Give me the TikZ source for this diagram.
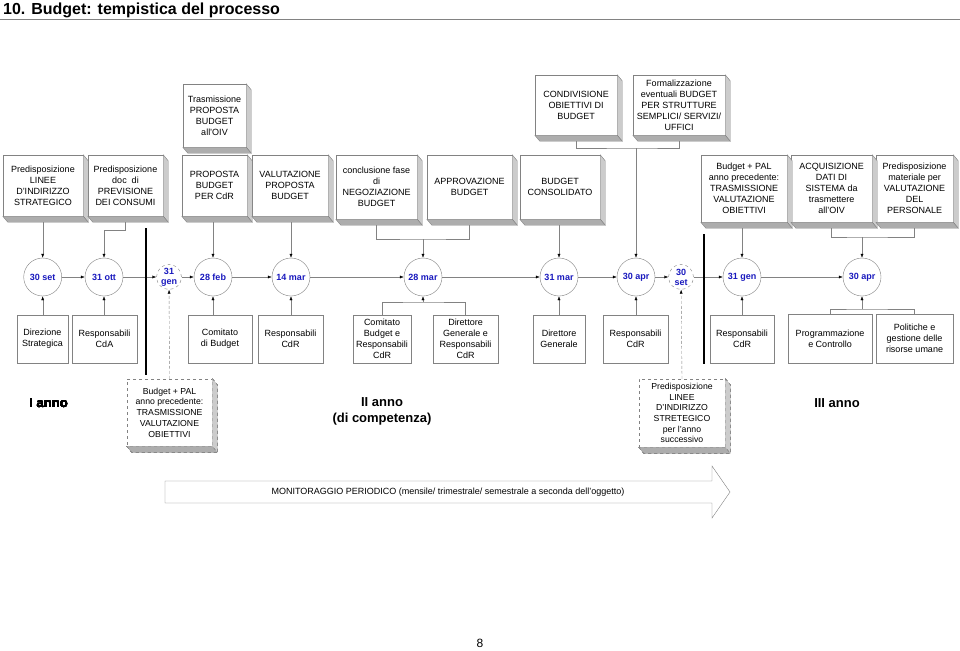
\documentclass[tikz,border=0pt]{standalone}
\usepackage{fontspec}
\setmainfont{Liberation Sans}
\usepackage{tikz}
\usetikzlibrary{calc,arrows.meta}
\tikzstyle{timeline} = [x = 1pt, y = -1pt]
\definecolor{lineGray}{RGB}{130,130,130}
\definecolor{dateBlue}{RGB}{25,25,190}
\tikzstyle{phaseStyle} = [draw=lineGray, fill=white, align=center, inner sep=1pt, font=\fontsize{9}{11}\selectfont]
\tikzstyle{actorStyle} = [phaseStyle]
\tikzstyle{planStyle} = [phaseStyle, dashed, font=\fontsize{8.7}{10.7}\selectfont]
\tikzstyle{sideFace} = [draw=lineGray, fill=black!20]
\tikzstyle{bottomFace} = [draw=lineGray, fill=black!32]
\tikzstyle{dateStyle} = [circle, draw=lineGray, fill=white, minimum size=38pt, inner sep=0pt, text=dateBlue, font=\fontsize{9}{10}\selectfont\bfseries]
\tikzstyle{extraDate} = [dateStyle, dashed, minimum size=25pt, align=center]
\tikzstyle{flowLine} = [draw=lineGray, -{Latex[length=4pt, width=3pt, color=black]}]
\tikzstyle{joinLine} = [draw=lineGray]
\tikzstyle{planLine} = [flowLine, densely dashed]
\tikzstyle{yearBar} = [line width=2.6pt, black]
\tikzstyle{yearLabel} = [align=center, font=\fontsize{13}{16}\selectfont\bfseries]
\newcommand{\dx}{5}
\newcommand{\dy}{6}
\newcommand{\placeBox}[7]{\node [#1, minimum width={(#5 - #3)*1pt}, minimum height={(#6 - #4)*1pt}] (#2) at ({(#3 + #5)/2}, {(#4 + #6)/2}) {#7};}
\newcommand{\boxDepth}[2][]{
  \filldraw [sideFace, #1] (#2.north east) -- ++(\dx,\dy) -- ($(#2.south east) + (\dx,\dy)$) -- (#2.south east) -- cycle;
  \filldraw [bottomFace, #1] (#2.south west) -- ++(\dx,\dy) -- ($(#2.south east) + (\dx,\dy)$) -- (#2.south east) -- cycle;
}
\begin{document}
\begin{tikzpicture}[timeline]
\useasboundingbox (0,0) rectangle (960,650);
% title
\node [anchor=base west, inner sep=0pt, font=\fontsize{16}{18}\selectfont\bfseries] (title) at (3,15) {10. Budget: tempistica del processo};
\draw [lineGray, line width=1.2pt] (0,19.5) -- (960,19.5);
% phases
\placeBox{phaseStyle}{trasmOiv}{183}{84}{246}{147}{Trasmissione\\PROPOSTA\\BUDGET\\all'OIV}
\placeBox{phaseStyle}{condivisione}{535}{75}{617}{135}{CONDIVISIONE\\OBIETTIVI DI\\BUDGET}
\placeBox{phaseStyle}{formalizzazione}{633}{75}{725}{135}{Formalizzazione\\eventuali BUDGET\\PER STRUTTURE\\SEMPLICI/ SERVIZI/\\UFFICI}
\placeBox{phaseStyle}{lineeStrat}{3}{155}{83}{216}{Predisposizione\\LINEE\\D'INDIRIZZO\\STRATEGICO}
\placeBox{phaseStyle}{prevConsumi}{88}{155}{163}{216}{Predisposizione\\doc\ \ di\\PREVISIONE\\DEI CONSUMI}
\placeBox{phaseStyle}{propostaCdr}{182}{155}{247}{216}{PROPOSTA\\BUDGET\\PER CdR}
\placeBox{phaseStyle}{valutProposta}{252}{155}{328}{216}{VALUTAZIONE\\PROPOSTA\\BUDGET}
\placeBox{phaseStyle}{negoziazione}{336}{155}{417}{219}{conclusione fase\\di\\NEGOZIAZIONE\\BUDGET}
\placeBox{phaseStyle}{approvazione}{427}{155}{512}{219}{APPROVAZIONE\\BUDGET}
\placeBox{phaseStyle}{consolidato}{520}{155}{600}{219}{BUDGET\\CONSOLIDATO}
\placeBox{phaseStyle}{valutObiettivi}{701}{155}{787}{222}{Budget + PAL\\anno precedente:\\TRASMISSIONE\\VALUTAZIONE\\OBIETTIVI}
\placeBox{phaseStyle}{datiSistema}{791}{155}{872}{222}{ACQUISIZIONE\\DATI DI\\SISTEMA da\\trasmettere\\all'OIV}
\placeBox{phaseStyle}{valutPersonale}{876}{155}{953}{222}{Predisposizione\\materiale per\\VALUTAZIONE\\DEL\\PERSONALE}
% dates
\foreach \name/\xpos/\txt in {dSetOne/42.7/30 set, dOttOne/104/31 ott, dFeb/213/28 feb, dMarA/291/14 mar, dMarB/423/28 mar, dMarC/559/31 mar, dApr/636/30 apr, dGenTwo/742/31 gen, dAprTwo/862/30 apr}
  \node [dateStyle] (\name) at (\xpos,277) {\txt};
\node [extraDate] (dGenExtra) at (169,277) {31\\gen};
\node [extraDate] (dSetExtra) at (681,277) {30\\set};
% actors
\placeBox{actorStyle}{dirStrat}{17}{315}{68}{363}{Direzione\\Strategica}
\placeBox{actorStyle}{respCda}{72}{315}{137}{363}{Responsabili\\CdA}
\placeBox{actorStyle}{comBudget}{188}{315}{252}{363}{Comitato\\di Budget}
\placeBox{actorStyle}{respCdrA}{258}{315}{323}{363}{Responsabili\\CdR}
\placeBox{actorStyle}{comResp}{353}{315}{411}{363}{Comitato\\Budget e\\Responsabili\\CdR}
\placeBox{actorStyle}{dirResp}{433}{315}{498}{363}{Direttore\\Generale e\\Responsabili\\CdR}
\placeBox{actorStyle}{dirGen}{533}{315}{585}{363}{Direttore\\Generale}
\placeBox{actorStyle}{respCdrB}{603}{315}{668}{363}{Responsabili\\CdR}
\placeBox{actorStyle}{respCdrC}{710}{315}{774}{363}{Responsabili\\CdR}
\placeBox{actorStyle}{progControllo}{788}{314}{872}{363}{Programmazione\\e Controllo}
\placeBox{actorStyle}{risorseUmane}{876}{314}{953}{363}{Politiche e\\gestione delle\\risorse umane}
% plans of the other years
\placeBox{planStyle}{pianoPal}{127}{379}{212}{446}{Budget + PAL\\anno precedente:\\TRASMISSIONE\\VALUTAZIONE\\OBIETTIVI}
\placeBox{planStyle}{lineeSucc}{639}{379}{725}{447}{Predisposizione\\LINEE\\D'INDIRIZZO\\STRETEGICO\\per l'anno\\successivo}
% time line
\foreach \from/\to in {dSetOne/dOttOne, dOttOne/dGenExtra, dGenExtra/dFeb, dFeb/dMarA, dMarA/dMarB, dMarB/dMarC, dMarC/dApr, dApr/dSetExtra, dSetExtra/dGenTwo, dGenTwo/dAprTwo}
  \draw [flowLine] (\from) -- (\to);
% phases to dates
\coordinate (jOtt) at (104,230);
\coordinate (jNeg) at (423,239);
\coordinate (jCond) at (636,148);
\coordinate (jDati) at (862,237);
\draw [flowLine] (lineeStrat.south -| dSetOne) -- (dSetOne);
\draw [flowLine] (prevConsumi.south) |- (jOtt) -- (dOttOne);
\draw [flowLine] (propostaCdr.south -| dFeb) -- (dFeb);
\draw [flowLine] (valutProposta.south -| dMarA) -- (dMarA);
\draw [joinLine] (negoziazione.south) |- (jNeg) -| (approvazione.south);
\draw [flowLine] (jNeg) -- (dMarB);
\draw [flowLine] (consolidato.south -| dMarC) -- (dMarC);
\draw [joinLine] (condivisione.south) |- (jCond) -| (formalizzazione.south);
\draw [flowLine] (jCond) -- (dApr);
\draw [flowLine] (valutObiettivi.south -| dGenTwo) -- (dGenTwo);
\draw [joinLine] (datiSistema.south) |- (jDati) -| (valutPersonale.south);
\draw [flowLine] (jDati) -- (dAprTwo);
% actors to dates
\coordinate (jCom) at (423,302);
\coordinate (jProg) at (862,309);
\draw [flowLine] (dirStrat.north -| dSetOne) -- (dSetOne);
\draw [flowLine] (respCda.north -| dOttOne) -- (dOttOne);
\draw [flowLine] (comBudget.north -| dFeb) -- (dFeb);
\draw [flowLine] (respCdrA.north -| dMarA) -- (dMarA);
\draw [joinLine] (comResp.north) |- (jCom) -| (dirResp.north);
\draw [flowLine] (jCom) -- (dMarB);
\draw [flowLine] (dirGen.north -| dMarC) -- (dMarC);
\draw [flowLine] (respCdrB.north -| dApr) -- (dApr);
\draw [flowLine] (respCdrC.north -| dGenTwo) -- (dGenTwo);
\draw [joinLine] (progControllo.north) |- (jProg) -| (risorseUmane.north);
\draw [flowLine] (jProg) -- (dAprTwo);
\draw [planLine] (pianoPal.north) -- (dGenExtra);
\draw [planLine] (lineeSucc.north) -- (dSetExtra);
% year separators
\draw [yearBar] (146,228) -- (146,375);
\draw [yearBar] (704,234) -- (704,364);
% 3d faces
\foreach \b in {trasmOiv, condivisione, formalizzazione, lineeStrat, prevConsumi, propostaCdr, valutProposta, negoziazione, approvazione, consolidato, valutObiettivi, datiSistema, valutPersonale}
  \boxDepth{\b}
\boxDepth[dashed]{pianoPal}
\boxDepth[dashed]{lineeSucc}
% years
\node [yearLabel] (annoUno) at (48.6,403.4) {I anno};
\node [yearLabel] (annoDue) at (382,411) {II anno\\(di competenza)};
\node [yearLabel] (annoTre) at (837,403) {III anno};
% monitoring
\filldraw [draw=lineGray, fill=white] (165,481) -- (712,481) -- (712,466) -- (730,492) -- (712,518) -- (712,503) -- (165,503) -- cycle;
\node [font=\fontsize{9}{11}\selectfont] (monitor) at (448,492) {MONITORAGGIO PERIODICO (mensile/ trimestrale/ semestrale a seconda dell'oggetto)};
\node [font=\fontsize{12}{14}\selectfont] (pageNum) at (480,643) {8};
\end{tikzpicture}
\end{document}
